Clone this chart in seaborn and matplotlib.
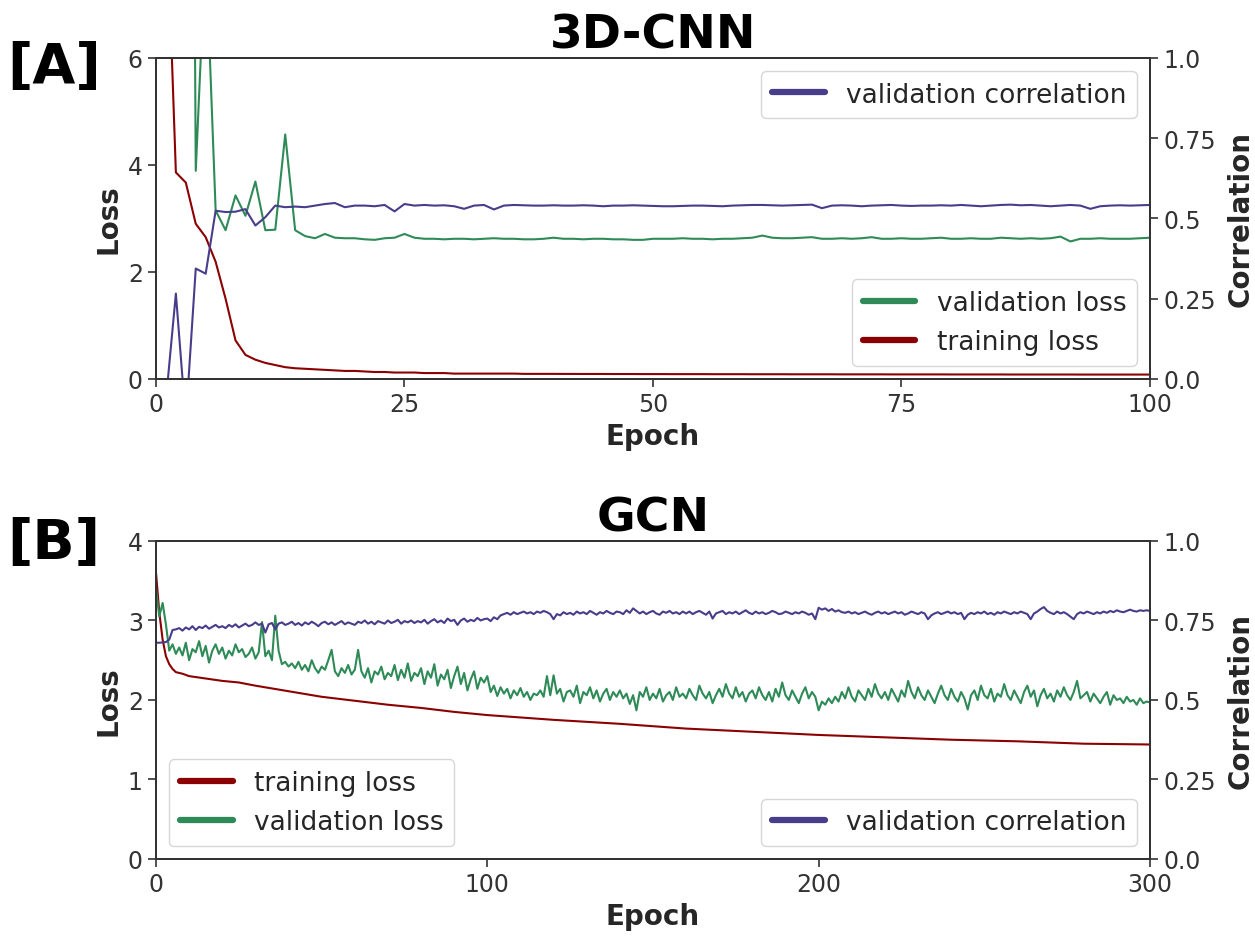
import matplotlib
matplotlib.use("Agg")
import numpy as np
import pandas as pd
import matplotlib.pyplot as plt
from matplotlib.lines import Line2D
import seaborn as sns

# ---------------- 3D-CNN run (epochs 1..100) ----------------
cnn_epochs = list(range(1, 101))
cnn_train_loss = [
    9.20, 3.86, 3.67, 2.90, 2.65, 2.19, 1.50, 0.72, 0.45, 0.36,
    0.30, 0.26, 0.22, 0.20, 0.19, 0.18, 0.17, 0.16, 0.15, 0.15,
    0.14, 0.13, 0.13, 0.12, 0.12, 0.12, 0.11, 0.11, 0.11, 0.10,
    0.10, 0.10, 0.10, 0.10, 0.10, 0.10, 0.095, 0.095, 0.095, 0.095,
    0.094, 0.094, 0.093, 0.093, 0.093, 0.092, 0.092, 0.092, 0.091, 0.091,
    0.091, 0.090, 0.090, 0.090, 0.090, 0.089, 0.089, 0.089, 0.089, 0.088,
    0.088, 0.088, 0.088, 0.087, 0.087, 0.087, 0.087, 0.087, 0.086, 0.086,
    0.086, 0.086, 0.086, 0.085, 0.085, 0.085, 0.085, 0.085, 0.085, 0.084,
    0.084, 0.084, 0.084, 0.084, 0.084, 0.083, 0.083, 0.083, 0.083, 0.083,
    0.083, 0.083, 0.082, 0.082, 0.082, 0.082, 0.082, 0.082, 0.082, 0.082,
]
cnn_val_loss = [
    60.0, 45.0, 35.0, 3.89, 8.10, 3.15, 2.78, 3.43, 3.05, 3.69,
    2.78, 2.79, 4.57, 2.78, 2.67, 2.63, 2.71, 2.64, 2.63, 2.63,
    2.61, 2.60, 2.63, 2.64, 2.71, 2.64, 2.62, 2.62, 2.61, 2.62,
    2.62, 2.61, 2.62, 2.63, 2.62, 2.62, 2.61, 2.61, 2.62, 2.64,
    2.62, 2.62, 2.61, 2.62, 2.62, 2.61, 2.61, 2.60, 2.60, 2.62,
    2.62, 2.62, 2.63, 2.62, 2.62, 2.61, 2.62, 2.62, 2.63, 2.64,
    2.68, 2.64, 2.63, 2.63, 2.64, 2.65, 2.62, 2.62, 2.63, 2.62,
    2.63, 2.65, 2.62, 2.62, 2.63, 2.62, 2.62, 2.63, 2.64, 2.62,
    2.62, 2.63, 2.62, 2.62, 2.64, 2.63, 2.62, 2.63, 2.62, 2.63,
    2.66, 2.57, 2.62, 2.62, 2.63, 2.62, 2.62, 2.62, 2.63, 2.64,
]
cnn_val_corr = [
    -0.066, 0.266, -0.131, 0.344, 0.328, 0.524, 0.520, 0.521, 0.529, 0.478,
    0.504, 0.540, 0.535, 0.537, 0.535, 0.540, 0.545, 0.548, 0.535, 0.540,
    0.540, 0.538, 0.542, 0.522, 0.545, 0.540, 0.542, 0.540, 0.541, 0.538,
    0.530, 0.540, 0.542, 0.528, 0.540, 0.542, 0.541, 0.540, 0.540, 0.541,
    0.540, 0.540, 0.541, 0.540, 0.538, 0.540, 0.540, 0.541, 0.540, 0.539,
    0.538, 0.538, 0.539, 0.540, 0.540, 0.539, 0.538, 0.540, 0.541, 0.542,
    0.542, 0.541, 0.540, 0.541, 0.542, 0.543, 0.532, 0.540, 0.541, 0.540,
    0.538, 0.540, 0.541, 0.542, 0.540, 0.539, 0.540, 0.540, 0.541, 0.540,
    0.542, 0.540, 0.538, 0.540, 0.542, 0.543, 0.541, 0.542, 0.540, 0.538,
    0.540, 0.542, 0.540, 0.530, 0.538, 0.540, 0.541, 0.540, 0.541, 0.542,
]

# ---------------- GCN run (epochs 0..300) ----------------
gcn_train_epochs = [0, 1, 2, 3, 4, 5, 6, 8, 10, 15, 20, 25, 30, 40, 50, 60, 70,
                    80, 90, 100, 110, 120, 140, 160, 180, 200, 220, 240, 260,
                    280, 300]
gcn_train_loss = [3.60, 3.10, 2.76, 2.55, 2.45, 2.39, 2.35, 2.33, 2.30, 2.27,
                  2.24, 2.22, 2.18, 2.11, 2.04, 1.99, 1.94, 1.90, 1.85, 1.81,
                  1.78, 1.75, 1.70, 1.64, 1.60, 1.56, 1.53, 1.50, 1.48, 1.45,
                  1.44]
gcn_epochs = list(range(0, 301))
gcn_val_loss = [
    3.40, 3.05, 3.22, 2.95, 2.62, 2.70, 2.58, 2.66, 2.56, 2.72, 2.50, 2.64, 2.60, 2.74, 2.55, 2.68, 2.47, 2.62, 2.70, 2.58,
    2.66, 2.52, 2.62, 2.56, 2.70, 2.60, 2.64, 2.54, 2.58, 2.66, 2.52, 2.60, 2.98, 2.55, 2.62, 2.50, 3.06, 2.62, 2.45, 2.48,
    2.42, 2.46, 2.40, 2.48, 2.38, 2.44, 2.36, 2.50, 2.40, 2.34, 2.42, 2.38, 2.50, 2.63, 2.36, 2.30, 2.40, 2.34, 2.44, 2.32,
    2.38, 2.63, 2.36, 2.28, 2.40, 2.22, 2.36, 2.32, 2.42, 2.26, 2.34, 2.30, 2.44, 2.25, 2.38, 2.28, 2.46, 2.24, 2.34, 2.30,
    2.40, 2.20, 2.36, 2.28, 2.45, 2.18, 2.32, 2.26, 2.38, 2.15, 2.30, 2.42, 2.20, 2.34, 2.12, 2.26, 2.36, 2.14, 2.28, 2.22,
    2.30, 2.10, 2.18, 2.05, 2.16, 2.08, 2.14, 2.02, 2.12, 2.06, 2.15, 2.04, 2.10, 2.00, 2.08, 2.06, 2.12, 2.04, 2.30, 2.06,
    2.31, 2.08, 2.14, 1.98, 2.10, 2.12, 2.04, 2.18, 1.96, 2.10, 2.06, 2.16, 2.02, 2.12, 1.98, 2.08, 2.14, 2.00, 2.10, 2.04,
    2.12, 2.02, 2.08, 1.95, 2.06, 1.87, 2.10, 2.04, 2.16, 2.00, 2.08, 2.02, 2.14, 1.98, 2.06, 2.10, 2.00, 2.16, 2.04, 2.08,
    2.02, 2.14, 2.06, 2.00, 2.18, 2.08, 2.02, 2.10, 1.96, 2.06, 2.14, 2.04, 2.20, 2.08, 2.02, 2.16, 2.04, 2.10, 1.98, 2.08,
    2.12, 2.02, 2.16, 2.06, 2.00, 2.10, 1.98, 2.14, 2.04, 2.22, 2.06, 2.00, 2.12, 2.04, 1.96, 2.08, 2.16, 2.02, 2.10, 2.04,
    1.87, 1.98, 1.94, 2.02, 1.96, 2.04, 1.98, 2.10, 2.02, 2.16, 2.04, 1.98, 2.12, 2.06, 2.00, 2.14, 2.04, 2.20, 2.08, 2.02,
    2.10, 2.00, 2.14, 2.06, 1.98, 2.12, 2.04, 2.24, 2.10, 2.02, 2.16, 2.06, 2.00, 2.12, 2.04, 1.96, 2.08, 2.18, 2.06, 2.00,
    2.14, 2.04, 1.98, 2.10, 2.02, 1.88, 2.06, 2.12, 2.00, 2.18, 2.06, 2.02, 2.14, 1.98, 2.08, 2.04, 2.20, 2.06, 2.00, 2.12,
    2.04, 1.96, 2.10, 2.18, 2.04, 2.12, 1.92, 2.06, 2.14, 2.02, 2.08, 1.98, 2.12, 2.04, 2.16, 2.06, 2.00, 2.10, 2.24, 2.02,
    2.06, 2.10, 1.98, 2.08, 2.02, 1.96, 2.04, 2.10, 1.94, 2.06, 2.00, 2.02, 1.96, 2.04, 1.98, 2.00, 1.94, 2.02, 1.96, 1.98,
    1.97,
]
gcn_val_corr = [
    0.680, 0.680, 0.681, 0.682, 0.690, 0.720, 0.722, 0.726, 0.718, 0.728, 0.722, 0.732, 0.720, 0.730, 0.726, 0.734, 0.724, 0.730, 0.736, 0.728,
    0.732, 0.726, 0.736, 0.730, 0.738, 0.728, 0.734, 0.740, 0.732, 0.736, 0.744, 0.736, 0.740, 0.712, 0.738, 0.742, 0.722, 0.740, 0.744, 0.736,
    0.740, 0.746, 0.736, 0.742, 0.734, 0.744, 0.738, 0.746, 0.740, 0.732, 0.742, 0.746, 0.738, 0.744, 0.736, 0.742, 0.748, 0.738, 0.744, 0.740,
    0.736, 0.746, 0.742, 0.750, 0.740, 0.746, 0.738, 0.748, 0.744, 0.740, 0.750, 0.742, 0.746, 0.752, 0.740, 0.748, 0.744, 0.750, 0.742, 0.748,
    0.744, 0.752, 0.740, 0.748, 0.754, 0.744, 0.750, 0.742, 0.756, 0.748, 0.752, 0.736, 0.750, 0.756, 0.746, 0.752, 0.748, 0.758, 0.750, 0.754,
    0.756, 0.748, 0.760, 0.754, 0.766, 0.770, 0.774, 0.768, 0.776, 0.770, 0.774, 0.778, 0.772, 0.776, 0.770, 0.778, 0.774, 0.780, 0.776, 0.770,
    0.754, 0.770, 0.766, 0.776, 0.770, 0.774, 0.768, 0.778, 0.772, 0.776, 0.770, 0.780, 0.774, 0.768, 0.776, 0.772, 0.780, 0.774, 0.770, 0.778,
    0.776, 0.770, 0.782, 0.774, 0.788, 0.780, 0.772, 0.778, 0.770, 0.776, 0.780, 0.772, 0.768, 0.778, 0.774, 0.780, 0.772, 0.776, 0.770, 0.778,
    0.772, 0.778, 0.770, 0.776, 0.780, 0.774, 0.768, 0.778, 0.756, 0.772, 0.776, 0.780, 0.770, 0.776, 0.772, 0.778, 0.770, 0.776, 0.782, 0.774,
    0.770, 0.778, 0.772, 0.776, 0.770, 0.774, 0.780, 0.776, 0.770, 0.772, 0.778, 0.774, 0.770, 0.776, 0.772, 0.778, 0.774, 0.768, 0.772, 0.754,
    0.790, 0.784, 0.788, 0.780, 0.786, 0.778, 0.782, 0.776, 0.774, 0.778, 0.772, 0.776, 0.770, 0.774, 0.778, 0.772, 0.768, 0.774, 0.778, 0.772,
    0.776, 0.770, 0.774, 0.778, 0.772, 0.776, 0.768, 0.772, 0.778, 0.774, 0.770, 0.776, 0.772, 0.754, 0.766, 0.772, 0.776, 0.770, 0.774, 0.778,
    0.772, 0.776, 0.770, 0.774, 0.754, 0.768, 0.774, 0.770, 0.776, 0.772, 0.778, 0.770, 0.774, 0.768, 0.776, 0.772, 0.778, 0.774, 0.770, 0.776,
    0.772, 0.778, 0.774, 0.770, 0.754, 0.772, 0.778, 0.786, 0.792, 0.780, 0.774, 0.770, 0.778, 0.772, 0.776, 0.770, 0.762, 0.754, 0.770, 0.776,
    0.772, 0.778, 0.774, 0.770, 0.776, 0.772, 0.778, 0.774, 0.780, 0.776, 0.782, 0.778, 0.776, 0.780, 0.784, 0.780, 0.778, 0.782, 0.780, 0.782,
    0.780,
]

corr_ticks = [0.0, 0.25, 0.5, 0.75, 1.0]
corr_ticklabels = ["0.0", "0.25", "0.5", "0.75", "1.0"]

RED = "#8b0000"
GREEN = "#2e8b57"
PURPLE = "#483d8b"

sns.set_theme(style="ticks")
plt.rcParams["font.family"] = ["DejaVu Sans"]
plt.rcParams["axes.edgecolor"] = "#333333"
plt.rcParams["axes.linewidth"] = 1.4

TICK_FS = 17
LABEL_FS = 20
LEGEND_FS = 19
LINE_W = 1.5

fig = plt.figure(figsize=(12.55, 9.37), dpi=100)
ax_a = fig.add_axes([0.1243, 0.5945, 0.792, 0.3426])
ax_b = fig.add_axes([0.1243, 0.0822, 0.792, 0.3394])


def handle(color):
    return Line2D([0], [0], color=color, lw=4.5, solid_capstyle="round")


def style_axes(ax, ax2, xlim, xticks, ylim, yticks):
    ax.set_xlim(*xlim)
    ax.set_xticks(xticks)
    ax.set_ylim(*ylim)
    ax.set_yticks(yticks)
    ax2.set_ylim(0, 1)
    ax2.set_yticks(corr_ticks)
    ax2.set_yticklabels(corr_ticklabels)
    for a in (ax, ax2):
        a.tick_params(labelsize=TICK_FS, colors="#333333", length=6, width=1.2)
    ax.set_xlabel("Epoch", fontsize=LABEL_FS, fontweight="bold", color="#262626")
    ax.set_ylabel("Loss", fontsize=LABEL_FS, fontweight="bold", color="#262626")
    ax2.set_ylabel("Correlation", fontsize=LABEL_FS, fontweight="bold",
                   color="#262626", labelpad=8)


# ---- panel A: 3D-CNN ----
ax_a2 = ax_a.twinx()
sns.lineplot(x=cnn_epochs, y=cnn_train_loss, ax=ax_a, color=RED, lw=LINE_W,
             estimator=None, sort=False)
sns.lineplot(x=cnn_epochs, y=cnn_val_loss, ax=ax_a, color=GREEN, lw=LINE_W,
             estimator=None, sort=False)
sns.lineplot(x=cnn_epochs, y=cnn_val_corr, ax=ax_a2, color=PURPLE, lw=LINE_W,
             estimator=None, sort=False)
style_axes(ax_a, ax_a2, (0, 100), [0, 25, 50, 75, 100], (0, 6), [0, 2, 4, 6])
ax_a.set_title("3D-CNN", fontsize=34, fontweight="bold", color="black", pad=4)

leg1 = ax_a2.legend([handle(PURPLE)], ["validation correlation"],
                    loc="upper right", fontsize=LEGEND_FS)
ax_a2.add_artist(leg1)
ax_a2.legend([handle(GREEN), handle(RED)], ["validation loss", "training loss"],
             loc="lower right", fontsize=LEGEND_FS)

# ---- panel B: GCN ----
ax_b2 = ax_b.twinx()
sns.lineplot(x=gcn_train_epochs, y=gcn_train_loss, ax=ax_b, color=RED,
             lw=LINE_W, estimator=None, sort=False)
sns.lineplot(x=gcn_epochs, y=gcn_val_loss, ax=ax_b, color=GREEN, lw=LINE_W,
             estimator=None, sort=False)
sns.lineplot(x=gcn_epochs, y=gcn_val_corr, ax=ax_b2, color=PURPLE, lw=LINE_W,
             estimator=None, sort=False)
style_axes(ax_b, ax_b2, (0, 300), [0, 100, 200, 300], (0, 4), [0, 1, 2, 3, 4])
ax_b.set_title("GCN", fontsize=34, fontweight="bold", color="black", pad=4)

leg2 = ax_b2.legend([handle(RED), handle(GREEN)], ["training loss", "validation loss"],
                    loc="lower left", fontsize=LEGEND_FS)
ax_b2.add_artist(leg2)
ax_b2.legend([handle(PURPLE)], ["validation correlation"],
             loc="lower right", fontsize=LEGEND_FS)

# panel letters
fig.text(0.006, 0.927, "[A]", fontsize=40, fontweight="bold", color="black",
         ha="left", va="center")
fig.text(0.006, 0.419, "[B]", fontsize=40, fontweight="bold", color="black",
         ha="left", va="center")

fig.savefig("out.png", dpi=100)
